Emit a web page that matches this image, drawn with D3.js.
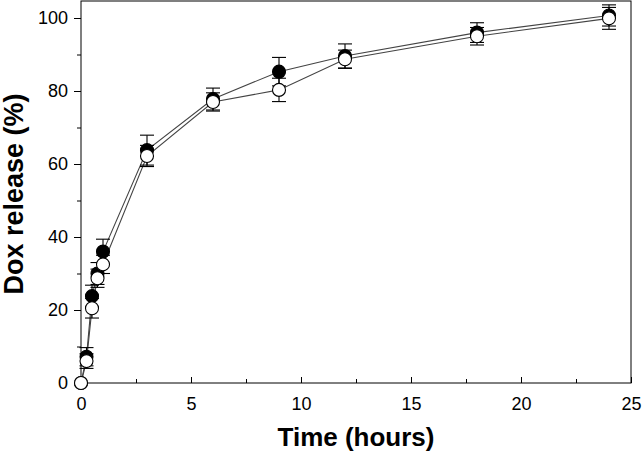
<!DOCTYPE html>
<html><head><meta charset="utf-8">
<script src="https://cdn.jsdelivr.net/npm/d3@7"></script>
<style>body{margin:0;background:#fff}svg{display:block}</style>
</head><body>
<svg id="c" width="643" height="454"></svg>
<script>
const time = [0, 0.25, 0.5, 0.75, 1, 3, 6, 9, 12, 18, 24];
const filledVals = [0, 7.2, 23.8, 30.0, 36.0, 63.8, 77.8, 85.3, 89.6, 96.0, 100.7];
const filledErr  = [0, 2.5, 3.0, 3.0, 3.4, 4.1, 3.0, 3.9, 3.3, 2.7, 2.9];
const openVals   = [0, 6.0, 20.5, 28.7, 32.5, 62.2, 77.0, 80.3, 88.7, 95.0, 99.9];
const openErr    = [0, 2.0, 2.7, 2.5, 2.5, 2.9, 2.5, 3.2, 2.5, 2.4, 3.0];
const xTicks = [0, 5, 10, 15, 20, 25];
const xMinor = [2.5, 7.5, 12.5, 17.5, 22.5];
const yTicks = [0, 20, 40, 60, 80, 100];
const yMinor = [10, 30, 50, 70, 90];

const svg = d3.select('#c');
const L = 81, R = 631, T = 1, B = 383;
const x = d3.scaleLinear().domain([0, 25]).range([L, R]);
const y = d3.scaleLinear().domain([0, 100]).range([B, 18]);
const font = "'Liberation Sans', Arial, sans-serif";

// frame
svg.append('rect').attr('x', L).attr('y', T).attr('width', R - L).attr('height', B - T)
  .attr('fill', 'none').attr('stroke', '#000').attr('stroke-width', 1);

// x axis ticks (inward)
const gx = svg.append('g').attr('transform', `translate(0,${B})`);
gx.call(d3.axisBottom(x).tickValues(xTicks).tickSize(-6).tickPadding(14).tickFormat(d3.format('d')));
gx.append('g').call(d3.axisBottom(x).tickValues(xMinor).tickSize(-4).tickFormat(''));
gx.selectAll('.domain').remove();
gx.selectAll('text').attr('font-family', font).attr('font-size', 18).attr('fill', '#000');
gx.selectAll('line').attr('stroke', '#000');

// y axis ticks (outward)
const gy = svg.append('g').attr('transform', `translate(${L},0)`);
gy.call(d3.axisLeft(y).tickValues(yTicks).tickSize(7).tickPadding(6).tickFormat(d3.format('d')));
gy.append('g').call(d3.axisLeft(y).tickValues(yMinor).tickSize(4).tickFormat(''));
gy.selectAll('.domain').remove();
gy.selectAll('text').attr('font-family', font).attr('font-size', 18).attr('fill', '#000');
gy.selectAll('line').attr('stroke', '#000');

// axis titles
svg.append('text').attr('x', (L + R) / 2).attr('y', 446).attr('text-anchor', 'middle')
  .attr('font-family', font).attr('font-size', 26).attr('font-weight', 'bold').text('Time (hours)');
svg.append('text').attr('transform', 'translate(23,194) rotate(-90)').attr('text-anchor', 'middle')
  .attr('font-family', font).attr('font-size', 27).attr('font-weight', 'bold').text('Dox release (%)');

const series = [
  {vals: filledVals, err: filledErr, fill: '#000'},
  {vals: openVals, err: openErr, fill: '#fff'}
];
const line = d3.line().x((d, i) => x(time[i])).y(d => y(d));
series.forEach(s => {
  svg.append('path').datum(s.vals).attr('d', line).attr('fill', 'none')
    .attr('stroke', '#444').attr('stroke-width', 1.1);
});
const cap = 7;
series.forEach(s => {
  const g = svg.append('g').attr('stroke', '#000').attr('stroke-width', 1.1);
  time.forEach((t, i) => {
    if (!s.err[i]) return;
    const cx = x(t), y1 = y(s.vals[i] + s.err[i]), y2 = y(s.vals[i] - s.err[i]);
    g.append('line').attr('x1', cx).attr('x2', cx).attr('y1', y1).attr('y2', y2);
    g.append('line').attr('x1', cx - cap).attr('x2', cx + cap).attr('y1', y1).attr('y2', y1);
    g.append('line').attr('x1', cx - cap).attr('x2', cx + cap).attr('y1', y2).attr('y2', y2);
  });
});
series.forEach(s => {
  svg.append('g').selectAll('circle').data(s.vals).join('circle')
    .attr('cx', (d, i) => x(time[i])).attr('cy', d => y(d)).attr('r', 6.5)
    .attr('fill', s.fill).attr('stroke', '#000').attr('stroke-width', 1.1);
});
</script>
</body></html>
